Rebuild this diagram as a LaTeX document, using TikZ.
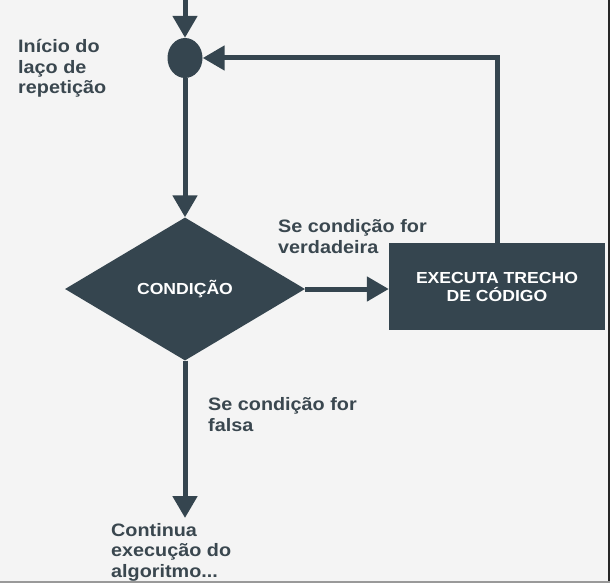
\documentclass[tikz,border=0pt]{standalone}
\usepackage{fontspec}
\setmainfont{Liberation Sans}[FakeStretch=1.1]
\usetikzlibrary{arrows.meta,shapes.geometric}

\definecolor{ardosia}{HTML}{35454F}
\definecolor{rotulo}{HTML}{3A474F}
\definecolor{fundo}{HTML}{F4F4F4}

\tikzset{
  fluxo/.style={draw=ardosia,line width=5pt,-{Triangle[length=22pt,width=24pt]}},
  legenda/.style={text=rotulo,align=left,inner sep=0pt,anchor=base west,
    font=\fontsize{18}{20.5}\selectfont\bfseries},
  bloco/.style={fill=ardosia,text=white,align=center,inner sep=0pt,
    font=\fontsize{16}{18}\selectfont\bfseries}
}

\begin{document}
\begin{tikzpicture}[x=1pt,y=-1pt]
    \fill[fundo] (0,0) rectangle (610,583);
    \useasboundingbox (0,0) rectangle (610,583);
    \draw[black!85,line width=2pt] (609,0) -- (609,583);
    \draw[black!40,line width=2pt] (0,582) -- (610,582);

    \node[ellipse,fill=ardosia,minimum width=35pt,minimum height=40pt,inner sep=0pt] (laco) at (185,58) {};
    \node[bloco,diamond,aspect=1.68,minimum width=240pt,minimum height=143pt] (cond) at (185,289) {CONDIÇÃO};
    \node[bloco,minimum width=216pt,minimum height=87pt] (trecho) at (497,286.5) {EXECUTA TRECHO\\DE CÓDIGO};
    \coordinate (entrada) at (185,0);
    \coordinate (saida) at (185,518);

    \draw[fluxo] (entrada) -- (laco);
    \draw[fluxo] (laco) -- (cond);
    \draw[fluxo] (cond.east) -- (cond.east -| trecho.west);
    \draw[fluxo] (trecho.north) |- (laco.east);
    \draw[fluxo] (cond.south) -- (saida);

    % base = last line
    \node[legenda] (inicio) at (18,94) {Início do\\laço de\\repetição};
    \node[legenda] (verdade) at (278,253) {Se condição for\\verdadeira};
    \node[legenda] (falso) at (208,431) {Se condição for\\falsa};
    \node[legenda] (continua) at (111,577) {Continua\\execução do\\algoritmo...};
  \end{tikzpicture}
\end{document}
